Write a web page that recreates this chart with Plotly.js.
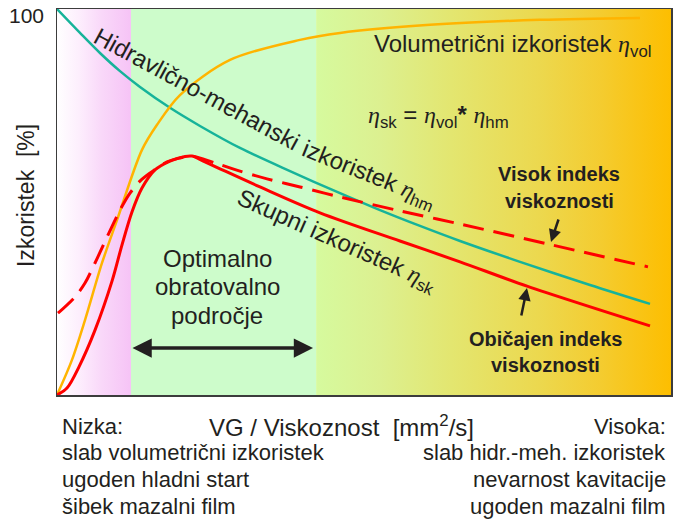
<!DOCTYPE html>
<html>
<head>
<meta charset="utf-8">
<script src="https://cdn.plot.ly/plotly-3.0.1.min.js"></script>
<style>html,body{margin:0;padding:0;background:#fff;}#chart{width:676px;height:519px;}</style>
</head>
<body>
<div id="chart"></div>
<script>
// ---- data (viscosity axis 0..100, efficiency 0..100 %) ----
const zoneEdges = [0, 12.05, 42.2, 100];          // pink | optimal (green) | high viscosity
const optimalRange = [12.05, 41.7];

const viscHm = [0, 3.75, 7.0, 10.26, 13.52, 18.4, 23.29, 29.8, 37.95, 46.09, 52.61, 59.12, 65.64, 75.41, 86.81, 96.58];
const etaHm  = [100, 93.8, 88.6, 83.9, 79.8, 74.4, 69.7, 64.0, 58.0, 52.3, 47.9, 43.8, 39.9, 34.5, 28.5, 23.6];

const viscVol = [0, 2.44, 4.56, 7.33, 9.77, 13.84, 16.29, 20.03, 28.18, 39.58, 46.09, 60.75, 78.66, 94.95];
const etaVol  = [0, 9.1, 19.4, 34.2, 45.3, 63.5, 70.0, 77.7, 86.8, 92.0, 93.8, 95.9, 97.2, 97.7];

const viscSkNormal = [0, 1.63, 3.58, 6.19, 8.96, 10.59, 12.21, 13.84, 15.96, 18.4, 20.85, 21.99, 24.1, 26.55, 33.06, 42.83, 55.86, 65.64, 76.55, 96.58];
const etaSkNormal  = [0, 1.8, 7.3, 16.8, 29.5, 38.9, 47.4, 53.6, 58.3, 60.6, 61.8, 61.9, 60.4, 58.6, 53.9, 47.2, 39.9, 34.5, 28.2, 17.9];

const viscSkHighVI = [0.16, 2.93, 4.56, 6.19, 8.47, 10.26, 11.89, 13.52, 15.15, 17.92, 20.03, 21.99, 25.73, 29.8, 34.2, 39.58, 46.09, 55.86, 65.64, 79.97, 96.25];
const etaSkHighVI  = [21.2, 25.4, 29.0, 34.2, 42.0, 47.9, 52.3, 55.4, 57.5, 60.4, 61.4, 61.9, 60.1, 58.0, 56.0, 53.9, 51.3, 47.7, 44.3, 39.1, 33.2];

const bottomLeftLines  = ['Nizka:', 'slab volumetrični izkoristek', 'ugoden hladni start', 'šibek mazalni film'];
const bottomRightLines = ['Visoka:', 'slab hidr.-meh. izkoristek', 'nevarnost kavitacije', 'ugoden mazalni film'];
const optimalLines = ['Optimalno', 'obratovalno', 'področje'];
const highVILines = ['Visok indeks', 'viskoznosti'];
const normalVILines = ['Običajen indeks', 'viskoznosti'];

// ---- geometry helpers (plot area in pixels) ----
const L = 57, R = 671, T = 9, B = 395, W = R - L, H = B - T;
const FONT = 'Liberation Sans, Arial, sans-serif';
const INK = '#231f20';
const px = p => (p - L) / W;          // paper x
const py = p => (B - p) / H;          // paper y
const dx = p => (p - L) / W * 100;    // axis x
const dy = p => (B - p) / H * 100;    // axis y

function txt(text, x, y, o) {
  return Object.assign({xref: 'paper', yref: 'paper', x: px(x), y: py(y), text: text,
    showarrow: false, xanchor: 'center', yanchor: 'middle',
    font: {family: FONT, size: 24, color: INK}}, o || {});
}
function arrow(tx, ty, hx, hy, o) {
  return Object.assign({xref: 'x', yref: 'y', axref: 'x', ayref: 'y',
    x: dx(hx), y: dy(hy), ax: dx(tx), ay: dy(ty), text: '', showarrow: true,
    arrowhead: 2, arrowsize: 1, arrowwidth: 2.5, arrowcolor: INK, standoff: 0, startstandoff: 0}, o || {});
}

const ETA = '<span style="font-family:Liberation Serif"><i>η</i></span>';

// ---- traces ----
function zone(x0, x1, fill) {
  const t = {x: [x0, x1, x1, x0, x0], y: [0, 0, 100, 100, 0], mode: 'lines', line: {width: 0},
    fill: 'toself', hoverinfo: 'skip', showlegend: false};
  if (typeof fill === 'string') t.fillcolor = fill; else t.fillgradient = fill;
  return t;
}
const SM = 0.9;
const traces = [
  zone(zoneEdges[0], zoneEdges[1], {type: 'horizontal',
    colorscale: [[0, '#ffffff'], [0.3, '#fdeefd'], [0.6, '#f9d8f9'], [1, '#f6c3f6']]}),
  zone(zoneEdges[1], zoneEdges[2], '#cdfccb'),
  zone(zoneEdges[2], zoneEdges[3], {type: 'horizontal',
    colorscale: [[0, '#d6fa9e'], [0.18, '#dcf090'], [0.38, '#e3e670'], [0.63, '#ecd84e'], [0.8, '#f4cc30'], [1, '#fdbe00']]}),
  {x: viscHm, y: etaHm, mode: 'lines', line: {color: '#16b39a', width: 2.5, shape: 'spline', smoothing: SM}, showlegend: false},
  {x: viscVol, y: etaVol, mode: 'lines', line: {color: '#ffb400', width: 2.5, shape: 'spline', smoothing: SM}, showlegend: false},
  {x: viscSkHighVI, y: etaSkHighVI, mode: 'lines', line: {color: '#ff0000', width: 3, shape: 'spline', smoothing: SM, dash: '21px,10px'}, showlegend: false},
  {x: viscSkNormal, y: etaSkNormal, mode: 'lines', line: {color: '#ff0000', width: 3, shape: 'spline', smoothing: SM}, showlegend: false}
];

// ---- annotations ----
const ann = [];
ann.push(txt('100', 46, 16, {xanchor: 'right', font: {family: FONT, size: 21, color: INK}}));
ann.push(txt('Izkoristek  [%]', 26, 196, {textangle: -90, font: {family: FONT, size: 23, color: INK}}));
ann.push(txt('Hidravlično-mehanski', 196, 89, {textangle: 28.5}));
ann.push(txt('izkoristek ' + ETA + '<sub>hm</sub>', 369, 175, {textangle: 22}));
ann.push(txt('Skupni izkoristek ' + ETA + '<sub>sk</sub>', 337, 241, {textangle: 24}));
ann.push(txt('Volumetrični izkoristek ' + ETA + '<sub>vol</sub>', 372, 45, {xanchor: 'left'}));
ann.push(txt(ETA + '<sub>sk</sub> = ' + ETA + '<sub>vol</sub><b>*</b> ' + ETA + '<sub>hm</sub>', 438, 116, {font: {family: FONT, size: 24, color: INK}}));
highVILines.forEach((s, i) => ann.push(txt('<b>' + s + '</b>', 559, 174 + i * 27, {font: {family: FONT, size: 20, color: INK}})));
normalVILines.forEach((s, i) => ann.push(txt('<b>' + s + '</b>', 545, 339 + i * 26, {font: {family: FONT, size: 20, color: INK}})));
optimalLines.forEach((s, i) => ann.push(txt(s, 217, 258 + i * 28.5)));
bottomLeftLines.forEach((s, i) => ann.push(txt(s, 60, 426 + i * 26.7, {xanchor: 'left', font: {family: FONT, size: 22, color: INK}})));
bottomRightLines.forEach((s, i) => ann.push(txt(s, 668, 426 + i * 26.7, {xanchor: 'right', font: {family: FONT, size: 22, color: INK}})));
ann.push(txt('VG / Viskoznost  [mm<sup>2</sup>/s]', 207, 426, {xanchor: 'left'}));

// arrows
ann.push({xref: 'x', yref: 'y', axref: 'x', ayref: 'y', x: optimalRange[1], y: dy(348), ax: optimalRange[0], ay: dy(348),
  text: '', showarrow: true, arrowside: 'end+start', arrowhead: 2, arrowsize: 1.1, arrowwidth: 3.5, arrowcolor: INK, standoff: 0, startstandoff: 0});
ann.push(arrow(559, 218, 551, 242));
ann.push(arrow(521, 317, 527, 288));

const layout = {
  width: 676, height: 519,
  margin: {l: L, r: 676 - R, t: T, b: 519 - B, pad: 0},
  paper_bgcolor: '#ffffff', plot_bgcolor: '#ffffff',
  xaxis: {range: [0, 100], showgrid: false, zeroline: false, showticklabels: false, ticks: '',
    showline: true, mirror: true, linecolor: '#3c3c3c', linewidth: 1.5, fixedrange: true},
  yaxis: {range: [0, 100], showgrid: false, zeroline: false, showticklabels: false, ticks: '',
    showline: true, mirror: true, linecolor: '#3c3c3c', linewidth: 1.5, fixedrange: true},
  annotations: ann,
  showlegend: false
};

Plotly.newPlot('chart', traces, layout, {displayModeBar: false, staticPlot: true});
</script>
</body>
</html>
